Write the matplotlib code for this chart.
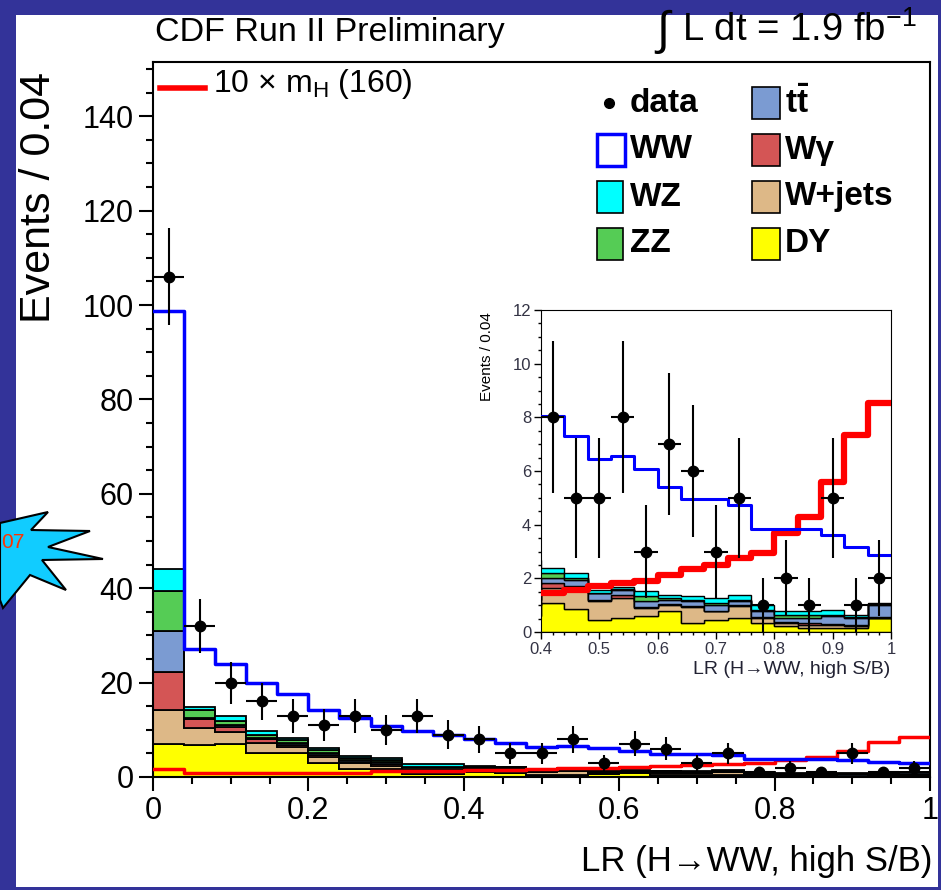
import numpy as np
import matplotlib
matplotlib.use("Agg")
import matplotlib.pyplot as plt
from matplotlib.patches import Rectangle, Polygon
from matplotlib.lines import Line2D

plt.rcParams['font.family'] = ['Liberation Sans', 'DejaVu Sans']
plt.rcParams['mathtext.fontset'] = 'custom'
plt.rcParams['mathtext.rm'] = 'Liberation Sans'
plt.rcParams['mathtext.it'] = 'Liberation Sans:italic'
plt.rcParams['mathtext.bf'] = 'Liberation Sans:bold'

# 25 bins of LR, width 0.04
bin_edges = [0.00, 0.04, 0.08, 0.12, 0.16, 0.20, 0.24, 0.28, 0.32, 0.36, 0.40, 0.44, 0.48,
             0.52, 0.56, 0.60, 0.64, 0.68, 0.72, 0.76, 0.80, 0.84, 0.88, 0.92, 0.96, 1.00]

data = [106, 32, 20, 16, 13, 11, 13, 10, 13, 9, 8, 5, 5, 8, 3, 7, 6, 3, 5, 1, 2, 1, 5, 1, 2]

# backgrounds (stacked bottom -> top)
dy = [6.9, 6.8, 7.0, 5.0, 5.0, 3.0, 1.8, 1.7, 0.6, 0.6, 1.08, 0.86, 0.43, 0.52, 0.58,
      0.77, 0.33, 0.46, 0.52, 0.33, 0.21, 0.15, 0.15, 0.15, 0.52]
wjets = [7.3, 3.5, 2.6, 2.3, 1.4, 1.3, 1.1, 0.7, 0.4, 0.4, 0.56, 0.78, 0.71, 0.75, 0.31,
         0.25, 0.60, 0.31, 0.44, 0.19, 0.12, 0.12, 0.12, 0.07, 0.02]
wgamma = [8.0, 1.9, 1.1, 0.7, 0.4, 0.3, 0.3, 0.3, 0.2, 0.2, 0.18, 0.08, 0.05, 0.12, 0.05,
          0.03, 0.03, 0.03, 0.03, 0.03, 0.03, 0.05, 0.03, 0.03, 0.02]
ttbar = [8.7, 0.4, 0.3, 0.3, 0.3, 0.5, 0.5, 0.5, 0.6, 0.6, 0.18, 0.20, 0.25, 0.19, 0.20,
         0.15, 0.18, 0.22, 0.15, 0.22, 0.16, 0.20, 0.28, 0.27, 0.45]
zz = [8.5, 1.7, 0.9, 0.6, 0.7, 0.7, 0.4, 0.4, 0.4, 0.4, 0.20, 0.10, 0.03, 0.03, 0.19,
      0.05, 0.05, 0.05, 0.05, 0.05, 0.10, 0.10, 0.05, 0.05, 0.02]
wz = [4.6, 0.6, 1.0, 0.9, 0.4, 0.3, 0.4, 0.4, 0.5, 0.5, 0.18, 0.18, 0.10, 0.06, 0.18,
      0.14, 0.14, 0.20, 0.20, 0.20, 0.15, 0.15, 0.20, 0.08, 0.05]
# top of the full stack (WW drawn as open histogram on top)
ww_top = [98.7, 27.2, 23.9, 20.0, 17.5, 14.3, 12.5, 10.8, 9.7, 9.0, 8.05, 7.3, 6.44, 6.56,
          6.07, 5.42, 4.95, 4.95, 4.74, 3.83, 3.83, 3.83, 3.62, 3.16, 2.88]
# 10 x m_H(160) signal
signal = [1.7, 0.8, 0.8, 0.8, 0.8, 0.8, 0.8, 1.3, 1.3, 1.3, 1.45, 1.58, 1.70, 1.82, 1.89,
          2.13, 2.35, 2.50, 2.75, 2.94, 3.68, 4.30, 5.60, 7.34, 8.52]

layers = [(dy, '#ffff00'), (wjets, '#ddb887'), (wgamma, '#d45555'),
          (ttbar, '#7b9bd2'), (zz, '#55cc55'), (wz, '#00ffff')]

W, H = 941, 890
fig = plt.figure(figsize=(W / 100, H / 100), dpi=100, facecolor='#333399')


def fx(px):
    return px / W


def fy(py):
    return 1 - py / H


def box(x0, y0, x1, y1, fc, ec='black', lw=1.2, z=5):
    fig.add_artist(Rectangle((fx(x0), fy(y1)), fx(x1) - fx(x0), fy(y0) - fy(y1),
                             transform=fig.transFigure, facecolor=fc, edgecolor=ec,
                             lw=lw, zorder=z))


# white page
box(16, 15, 938, 887, 'white', ec='none', lw=0, z=0)


def step_line(ax, vals, first, **kw):
    # histogram outline without the drops at the outer edges (ROOT style)
    e = np.array(bin_edges[first:])
    v = np.array(vals[first:])
    ax.plot(np.repeat(e, 2)[1:-1], np.repeat(v, 2), **kw)


def draw_hist(ax, first, lw_sig, lw_ww, ms, lw_edge):
    edges = np.array(bin_edges)
    base = np.zeros(len(data))
    for vals, c in layers:
        top = base + np.array(vals)
        ax.stairs(top, edges, baseline=base, fill=True, facecolor=c,
                  edgecolor='black', lw=lw_edge)
        base = top
    step_line(ax, signal, first, color='red', lw=lw_sig, zorder=3)
    step_line(ax, ww_top, first, color='blue', lw=lw_ww, zorder=3)
    centers = (edges[:-1] + edges[1:]) / 2
    ax.errorbar(centers, data, yerr=np.sqrt(data), xerr=0.02, fmt='o', color='black',
                ms=ms, lw=1.5, capsize=0, zorder=4)


# main plot
ax = fig.add_axes([fx(153), fy(777), fx(930) - fx(153), fy(62) - fy(777)])
draw_hist(ax, 0, 2.5, 2.5, 7.5, 1.3)
ax.set_xlim(0, 1)
ax.set_ylim(0, 151.5)
ax.set_xticks([0, 0.2, 0.4, 0.6, 0.8, 1.0])
ax.set_xticklabels(['0', '0.2', '0.4', '0.6', '0.8', '1'])
ax.set_xticks(np.arange(0, 1.001, 0.05), minor=True)
ax.set_yticks(range(0, 141, 20))
ax.set_yticks(range(0, 151, 5), minor=True)
ax.tick_params(which='major', direction='out', length=10, width=1.5, labelsize=22, pad=4)
ax.tick_params(which='minor', direction='out', length=5, width=1.5)
for s in ax.spines.values():
    s.set_linewidth(1.5)

fig.text(fx(39), fy(72), 'Events / 0.04', rotation=90, ha='center', va='top', fontsize=31)
fig.text(fx(932), fy(862), 'LR (H\u2192WW, high S/B)', ha='right', va='center', fontsize=25)
fig.text(fx(155), fy(33), 'CDF Run II Preliminary', ha='left', va='center', fontsize=24.5)
fig.text(fx(664), fy(32), r'$\int$', ha='center', va='center', fontsize=34)
fig.text(fx(682), fy(30), r'L dt = 1.9 fb$^{\mathregular{-1}}$', ha='left', va='center',
         fontsize=27.5)

# signal legend
fig.add_artist(Line2D([fx(160), fx(205)], [fy(88), fy(88)], color='red', lw=4,
                      transform=fig.transFigure))
fig.text(fx(213), fy(84), r'10 $\times$ m$_\mathregular{H}$ (160)', ha='left', va='center',
         fontsize=23)

# background legend
fig.add_artist(Line2D([fx(609)], [fy(103)], marker='o', color='black', ms=7,
                      transform=fig.transFigure))
fig.text(fx(630), fy(103), 'data', ha='left', va='center', fontsize=24, fontweight='bold')
left_col = [('WW', 'white', 150), ('WZ', '#00ffff', 197), ('ZZ', '#55cc55', 244)]
for name, c, yc in left_col:
    if name == 'WW':
        box(597, yc - 16, 625, yc + 16, 'white', ec='blue', lw=2.5)
    else:
        box(597, yc - 16, 623, yc + 16, c)
    fig.text(fx(630), fy(yc), name, ha='left', va='center', fontsize=24, fontweight='bold')
right_col = [(r'$\mathbf{t\bar{t}}$', '#7b9bd2', 103), ('W\u03b3', '#d45555', 150),
             ('W+jets', '#ddb887', 197), ('DY', '#ffff00', 244)]
for name, c, yc in right_col:
    box(752, yc - 16, 780, yc + 16, c)
    fig.text(fx(785), fy(yc), name, ha='left', va='center', fontsize=24, fontweight='bold')

# inset
axi = fig.add_axes([fx(541), fy(632), fx(891) - fx(541), fy(310) - fy(632)])
draw_hist(axi, 10, 4.5, 2.2, 7.5, 1.0)
axi.set_xlim(0.4, 1)
axi.set_ylim(0, 12)
axi.set_xticks([0.4, 0.5, 0.6, 0.7, 0.8, 0.9, 1.0])
axi.set_xticklabels(['0.4', '0.5', '0.6', '0.7', '0.8', '0.9', '1'])
axi.set_xticks(np.arange(0.4, 1.001, 0.02), minor=True)
axi.set_yticks(range(0, 13, 2))
axi.set_yticks(np.arange(0, 12.01, 0.5), minor=True)
axi.tick_params(which='major', direction='out', length=5, width=1, labelsize=12,
                pad=2, labelcolor='#333344')
axi.tick_params(which='minor', direction='out', length=2.5, width=1)
fig.text(fx(487), fy(312), 'Events / 0.04', rotation=90, ha='center', va='top', fontsize=11)
fig.text(fx(890), fy(670), 'LR (H\u2192WW, high S/B)', ha='right', va='center', fontsize=14,
         color='#222233')

# starburst on the left edge
star = [(0, 523), (48, 512), (31, 530), (90, 531), (48, 547), (103, 559), (42, 560),
        (66, 590), (30, 575), (3, 608), (0, 600)]
fig.add_artist(Polygon([(fx(x), fy(y)) for x, y in star], closed=True,
                       transform=fig.transFigure, facecolor='#11ccff', edgecolor='black',
                       lw=1.5, zorder=6))
fig.text(fx(1), fy(542), '07', ha='left', va='center', fontsize=15, color='#ff3300',
         zorder=7)

fig.savefig('out.png', dpi=100, facecolor=fig.get_facecolor())
